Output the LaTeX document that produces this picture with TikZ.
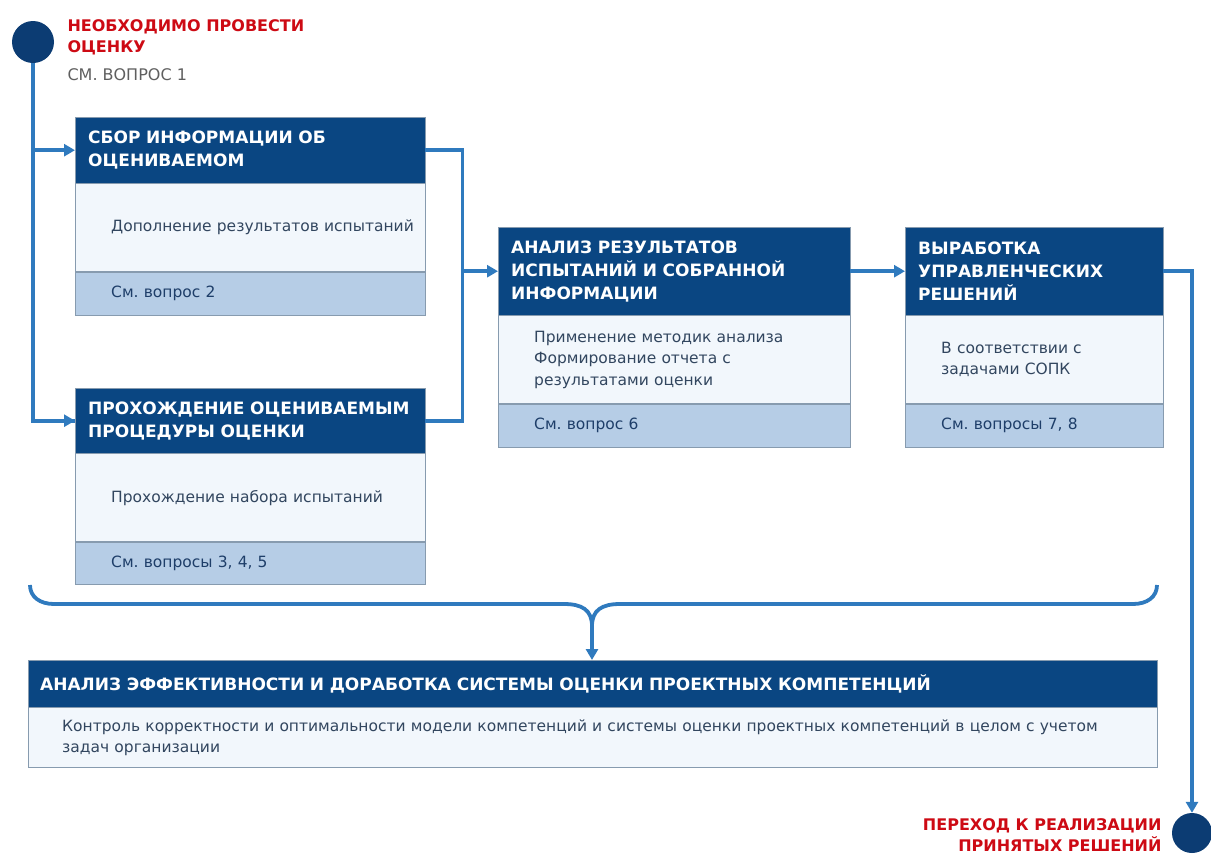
\documentclass[tikz,border=0pt]{standalone}
\usepackage{fontspec}
\setmainfont{DejaVu Sans}
\usepackage{xcolor}
\usepackage{tikz}
\usetikzlibrary{arrows.meta, positioning, calc}
\definecolor{hdrblue}{RGB}{10, 70, 130}
\definecolor{dotblue}{RGB}{12, 60, 115}
\definecolor{flowblue}{RGB}{47, 122, 190}
\definecolor{bodyfill}{RGB}{242, 247, 252}
\definecolor{notefill}{RGB}{182, 205, 230}
\definecolor{edgegray}{RGB}{135, 155, 175}
\definecolor{bodytext}{RGB}{50, 70, 95}
\definecolor{notetext}{RGB}{30, 62, 105}
\definecolor{alertred}{RGB}{205, 10, 20}
\definecolor{hintgray}{RGB}{95, 95, 95}
\frenchspacing

\tikzset{
  hdr/.style={draw=edgegray, fill=hdrblue, text=white, anchor=north west,
    font=\fontsize{17}{23}\selectfont\bfseries, align=left,
    inner xsep=13pt, inner ysep=0pt, text width=#1},
  bodybox/.style={draw=edgegray, fill=bodyfill, text=bodytext, anchor=north west,
    font=\fontsize{15.5}{21.5}\selectfont, align=left,
    inner xsep=0pt, inner ysep=0pt, text width=#1,
    execute at begin node={\leftskip=36pt\relax}},
  notebox/.style={draw=edgegray, fill=notefill, text=notetext, anchor=north west,
    font=\fontsize{15.5}{20}\selectfont, align=left,
    inner xsep=0pt, inner ysep=0pt, text width=#1,
    execute at begin node={\leftskip=36pt\relax}},
  flow/.style={draw=flowblue, line width=3.8pt},
  flowarrow/.style={flow, -{Triangle[length=11pt, width=12pt]}},
  dot/.style={circle, fill=dotblue, minimum size=42pt, inner sep=0pt}
}

\begin{document}
\begin{tikzpicture}[x=1pt, y=-1pt]
    \useasboundingbox (0,0) rectangle (1211,855);

    % Start point
    \node[dot] (start) at (33,42) {};
    \node[anchor=north west, text=alertred, align=left,
          font=\fontsize{16}{21}\selectfont\bfseries] (startLbl) at (64,16)
        {НЕОБХОДИМО ПРОВЕСТИ\\ОЦЕНКУ};
    \node[anchor=north west, text=hintgray, font=\fontsize{16}{20}\selectfont]
        (startHint) at (64,65) {СМ. ВОПРОС 1};

    % Collecting information
    \node[hdr=324pt, minimum height=66pt] (sbor) at (75,117)
        {СБОР ИНФОРМАЦИИ ОБ\\ОЦЕНИВАЕМОМ};
    \node[bodybox=350pt, minimum height=88pt] (sborBody) at (sbor.south west)
        {Дополнение результатов испытаний};
    \node[notebox=350pt, minimum height=43pt] (sborNote) at (sborBody.south west)
        {См. вопрос 2};

    % Passing the procedure
    \node[hdr=324pt, minimum height=65pt] (prohozh) at (75,388)
        {ПРОХОЖДЕНИЕ ОЦЕНИВАЕМЫМ\\ПРОЦЕДУРЫ ОЦЕНКИ};
    \node[bodybox=350pt, minimum height=88pt] (prohozhBody) at (prohozh.south west)
        {Прохождение набора испытаний};
    \node[notebox=350pt, minimum height=42pt] (prohozhNote) at (prohozhBody.south west)
        {См. вопросы 3, 4, 5};

    % Analysis
    \node[hdr=326pt, minimum height=88pt] (analiz) at (498,227)
        {АНАЛИЗ РЕЗУЛЬТАТОВ\\ИСПЫТАНИЙ И СОБРАННОЙ\\ИНФОРМАЦИИ};
    \node[bodybox=352pt, minimum height=88pt] (analizBody) at (analiz.south west)
        {Применение методик анализа\\Формирование отчета с\\результатами оценки};
    \node[notebox=352pt, minimum height=43pt] (analizNote) at (analizBody.south west)
        {См. вопрос 6};

    % Decisions
    \node[hdr=232pt, minimum height=88pt] (vyrab) at (905,227)
        {ВЫРАБОТКА\\УПРАВЛЕНЧЕСКИХ\\РЕШЕНИЙ};
    \node[bodybox=258pt, minimum height=88pt] (vyrabBody) at (vyrab.south west)
        {В соответствии с\\задачами СОПК};
    \node[notebox=258pt, minimum height=43pt] (vyrabNote) at (vyrabBody.south west)
        {См. вопросы 7, 8};

    % Efficiency review
    \node[hdr=1105pt, inner xsep=12pt, minimum height=47pt] (effekt) at (28,660)
        {АНАЛИЗ ЭФФЕКТИВНОСТИ И ДОРАБОТКА СИСТЕМЫ ОЦЕНКИ ПРОЕКТНЫХ КОМПЕТЕНЦИЙ};
    \node[bodybox=1129pt, minimum height=60pt,
          execute at begin node={\leftskip=34pt\relax}] (effektBody) at (effekt.south west)
        {Контроль корректности и оптимальности модели компетенций и системы оценки проектных компетенций в целом с учетом\\задач организации};

    % End point
    \node[dot, minimum size=40pt] (finish) at (1192,833) {};
    \node[anchor=north east, text=alertred, align=right,
          font=\fontsize{16}{21}\selectfont\bfseries] (finishLbl) at (1165,815)
        {ПЕРЕХОД К РЕАЛИЗАЦИИ\\ПРИНЯТЫХ РЕШЕНИЙ};

    % Connectors
    \draw[flow] (start.south) |- (prohozh.west);
    \draw[flowarrow] (start |- sbor.west) -- (sbor.west);
    \draw[flowarrow] (start |- prohozh.west) -- (prohozh.west);
    \coordinate (merge) at ($(sbor.east)+(37,0)$);
    \draw[flow] (sbor.east) -- (merge) |- (prohozh.east);
    \draw[flowarrow] (merge |- analiz.west) -- (analiz.west);
    \draw[flowarrow] (analiz.east) -- (vyrab.west);
    \draw[flowarrow] (vyrab.east) -| (finish.north);

    % The brace
    \coordinate (braceTip) at (592,626);
    \draw[flow] (30,585) .. controls (30,597) and (40,604) .. (54,604)
        -- (564,604) .. controls (582,604) and (592,610) .. (braceTip)
        .. controls (592,610) and (602,604) .. (620,604)
        -- (1133,604) .. controls (1147,604) and (1157,597) .. (1157,585);
    \draw[flowarrow] (braceTip) -- (braceTip |- effekt.north);
\end{tikzpicture}
\end{document}
